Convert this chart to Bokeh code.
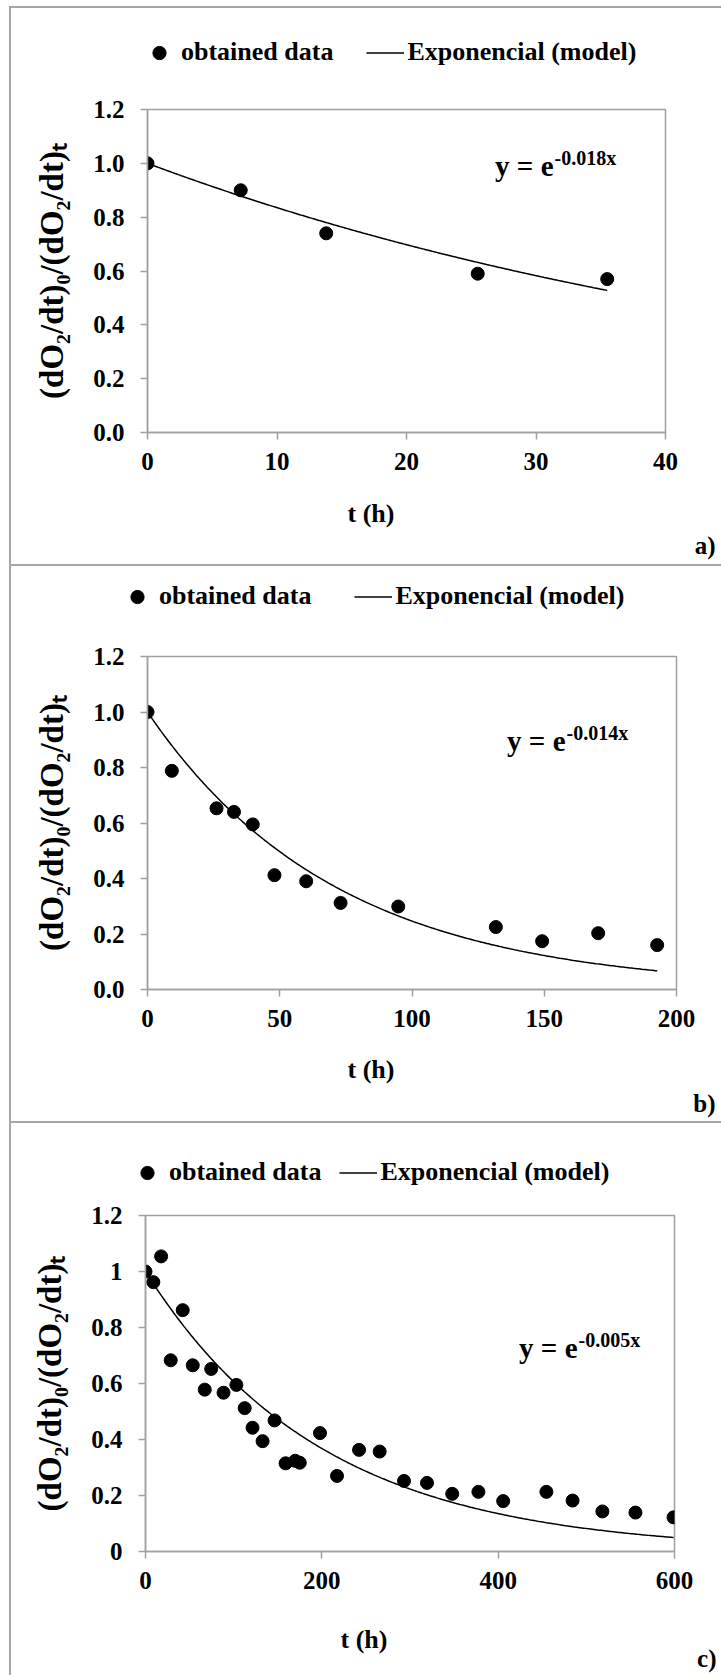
import numpy as np
from bokeh.plotting import figure
from bokeh.models import (Range1d, FixedTicker, Label, Legend, LegendItem, Title,
                          LinearAxis, Div, Spacer)
from bokeh.layouts import column, row
from bokeh.embed import file_html
from bokeh.resources import INLINE

# ---- data -------------------------------------------------------------
# a) short run
t_a = [0, 7.2, 13.8, 25.5, 35.5]
r_a = [1.00, 0.90, 0.74, 0.59, 0.57]
k_a = 0.018

# b) medium run
t_b = [0, 9.2, 26.1, 32.7, 39.8, 48.0, 60.0, 73.0, 94.8, 131.7, 149.2, 170.4, 192.7]
r_b = [1.00, 0.788, 0.653, 0.640, 0.595, 0.412, 0.390, 0.312, 0.299, 0.225, 0.174, 0.203, 0.160]
k_b = 0.014

# c) long run
t_c = [0, 8.9, 17.7, 28.6, 42.2, 53.6, 67.2, 74.5, 88.5, 103.1, 112.5, 121.4, 132.8,
       146.4, 158.9, 169.8, 175.0, 197.9, 217.2, 242.2, 265.6, 293.2, 319.3, 347.9,
       377.6, 405.7, 454.7, 484.4, 518.2, 555.7, 598.9]
r_c = [1.00, 0.962, 1.054, 0.683, 0.862, 0.665, 0.578, 0.652, 0.567, 0.595, 0.512, 0.442,
       0.394, 0.468, 0.315, 0.324, 0.317, 0.423, 0.270, 0.363, 0.357, 0.252, 0.245, 0.206,
       0.213, 0.180, 0.213, 0.182, 0.143, 0.139, 0.122]
k_c = 0.005

x_ticks_a = [0, 10, 20, 30, 40]
x_ticks_b = [0, 50, 100, 150, 200]
x_ticks_c = [0, 200, 400, 600]
y_ticks = [0, 0.2, 0.4, 0.6, 0.8, 1.0, 1.2]
y_labels_ab = ["0.0", "0.2", "0.4", "0.6", "0.8", "1.0", "1.2"]
y_labels_c = ["0", "0.2", "0.4", "0.6", "0.8", "1", "1.2"]

series_label = "obtained data"
model_label = "Exponencial (model)"
x_title = "t (h)"
y_title = "(dO\u2082/dt)\u2080/(dO\u2082/dt)\u209c"

# ---- style ------------------------------------------------------------
FONT = "Liberation Serif"
AXIS_GRAY = "#a0a0a0"
RULE_GRAY = "#a6a6a6"
FIG_W = 710


def free_frame(fig):
    # keep each canvas's own frame instead of lining frames up in the column
    if "frame_align" in fig.properties():
        fig.frame_align = False


def draw_series(fig, t, r, k):
    xs = np.linspace(0, t[-1], 300)
    curve = fig.line(xs, np.exp(-k * xs), line_color="black", line_width=1.5)
    dots = fig.scatter(t, r, size=13, fill_color="black", line_color="black")
    return dots, curve


def legend_strip(t, r, k, g):
    """Key row above each chart; its window (y 2..3) holds none of the series."""
    s = figure(width=FIG_W, height=g["sh"], x_range=Range1d(0, 1), y_range=Range1d(2, 3),
               output_backend="svg", toolbar_location=None, min_border=0,
               x_axis_type=None, y_axis_type=None)
    free_frame(s)
    s.title.visible = False
    s.grid.visible = False
    s.outline_line_color = None
    s.background_fill_color = "white"
    s.border_fill_color = "white"
    dots, curve = draw_series(s, t, r, k)
    s.add_layout(Legend(items=[LegendItem(label=series_label, renderers=[dots]),
                               LegendItem(label=model_label, renderers=[curve])],
                        orientation="horizontal", location=g["leg"],
                        padding=0, margin=0, spacing=g["sp"],
                        glyph_width=38, glyph_height=33, label_standoff=3,
                        border_line_alpha=0, background_fill_alpha=0,
                        label_text_font=FONT, label_text_font_style="bold",
                        label_text_font_size="26px", label_text_color="black"))
    return s


def text_title(text, size, align, offset, valign, standoff):
    return Title(text=text, align=align, offset=offset, vertical_align=valign,
                 standoff=standoff, text_font=FONT, text_font_style="bold",
                 text_font_size=f"{size}px", text_color="black")


def panel(t, r, k, x_max, x_ticks, y_labels, letter, g):
    p = figure(width=FIG_W, height=g["h"], x_range=Range1d(0, x_max), y_range=Range1d(0, 1.2),
               output_backend="svg", toolbar_location=None,
               min_border_left=g["left"], min_border_right=g["right"],
               min_border_top=g["top"], min_border_bottom=g["bottom"])
    free_frame(p)
    p.title.visible = False
    p.grid.visible = False
    p.background_fill_color = "white"
    p.border_fill_color = "white"
    p.outline_line_color = AXIS_GRAY
    p.outline_line_width = 1.5

    for ax in (p.xaxis[0], p.yaxis[0]):
        ax.axis_line_color = AXIS_GRAY
        ax.axis_line_width = 1.5
        ax.major_tick_line_color = AXIS_GRAY
        ax.major_tick_line_width = 1.5
        ax.major_tick_in = 0
        ax.major_tick_out = 7
        ax.minor_tick_line_color = None
        ax.major_label_text_font = FONT
        ax.major_label_text_font_style = "bold"
        ax.major_label_text_font_size = "25px"
        ax.major_label_text_color = "black"
    p.xaxis.ticker = FixedTicker(ticks=x_ticks)
    p.yaxis.ticker = FixedTicker(ticks=y_ticks)
    p.yaxis.major_label_overrides = dict(zip(y_ticks, y_labels))
    p.xaxis.major_label_standoff = 13
    p.yaxis.major_label_standoff = 16

    p.yaxis.axis_label = y_title
    p.yaxis.axis_label_text_font = FONT
    p.yaxis.axis_label_text_font_style = "bold"
    p.yaxis.axis_label_text_font_size = "33px"
    p.yaxis.axis_label_text_color = "black"
    p.yaxis.axis_label_standoff = 20

    # blank band between the tick labels and the x title (white tick on white)
    p.add_layout(LinearAxis(ticker=FixedTicker(ticks=[x_ticks[0]]),
                            major_label_overrides={x_ticks[0]: ""},
                            major_label_text_font_size="0px", major_label_standoff=0,
                            axis_line_color=None, minor_tick_line_color=None,
                            major_tick_line_color="white", major_tick_in=0,
                            major_tick_out=g["gap"]), "below")
    p.add_layout(text_title(x_title, 26, "left", g["to"], "top", 0), "below")
    p.add_layout(text_title(letter, 25, "right", g["lo"], "bottom", g["ls"]), "below")

    draw_series(p, t, r, k)

    # fitted equation, exponent raised
    for text, dx, dy, size, align in (("y = e", 0, 0, 29, "right"), (f"-{k}x", 1, -8, 20, "left")):
        p.add_layout(Label(x=g["ex"] + dx, y=g["ey"] + dy, x_units="canvas", y_units="canvas",
                           text=text, text_font=FONT, text_font_style="bold",
                           text_font_size=f"{size}px", text_color="black",
                           text_align=align, text_baseline="alphabetic"))
    return p


geo_a = dict(sh=82, leg=(129, 21.5), sp=33,
             h=474, left=136, right=56, top=19, bottom=132, gap=26, to=200,
             ex=542, ey=75, lo=-50, ls=0)
geo_b = dict(sh=74, leg=(107, 27.5), sp=43,
             h=481, left=136, right=45, top=16, bottom=132, gap=25, to=200,
             ex=554, ey=100, lo=-39, ls=4)
geo_c = dict(sh=72, leg=(117, 6.5), sp=18,
             h=480, left=134, right=47, top=20, bottom=124, gap=33, to=195,
             ex=566, ey=152, lo=-42, ls=-32)

blocks = []
for t, r, k, x_max, x_ticks, y_labels, letter, g in (
        (t_a, r_a, k_a, 40, x_ticks_a, y_labels_ab, "a)", geo_a),
        (t_b, r_b, k_b, 200, x_ticks_b, y_labels_ab, "b)", geo_b),
        (t_c, r_c, k_c, 600, x_ticks_c, y_labels_c, "c)", geo_c)):
    blocks.append(column(legend_strip(t, r, k, g),
                         panel(t, r, k, x_max, x_ticks, y_labels, letter, g), spacing=0))


def rule(w, h):
    return Div(text="", width=w, height=h, margin=0,
               styles={"background-color": RULE_GRAY})


panels = column(rule(FIG_W, 2), blocks[0], rule(FIG_W, 2), blocks[1], rule(FIG_W, 2), blocks[2],
                spacing=0)
framed = row(rule(2, 1669), panels, spacing=0)
layout = row(Spacer(width=9, height=1675, margin=0),
             column(Spacer(width=712, height=6, margin=0), framed, spacing=0),
             spacing=0)

open("out.html", "w").write(file_html(layout, INLINE))
